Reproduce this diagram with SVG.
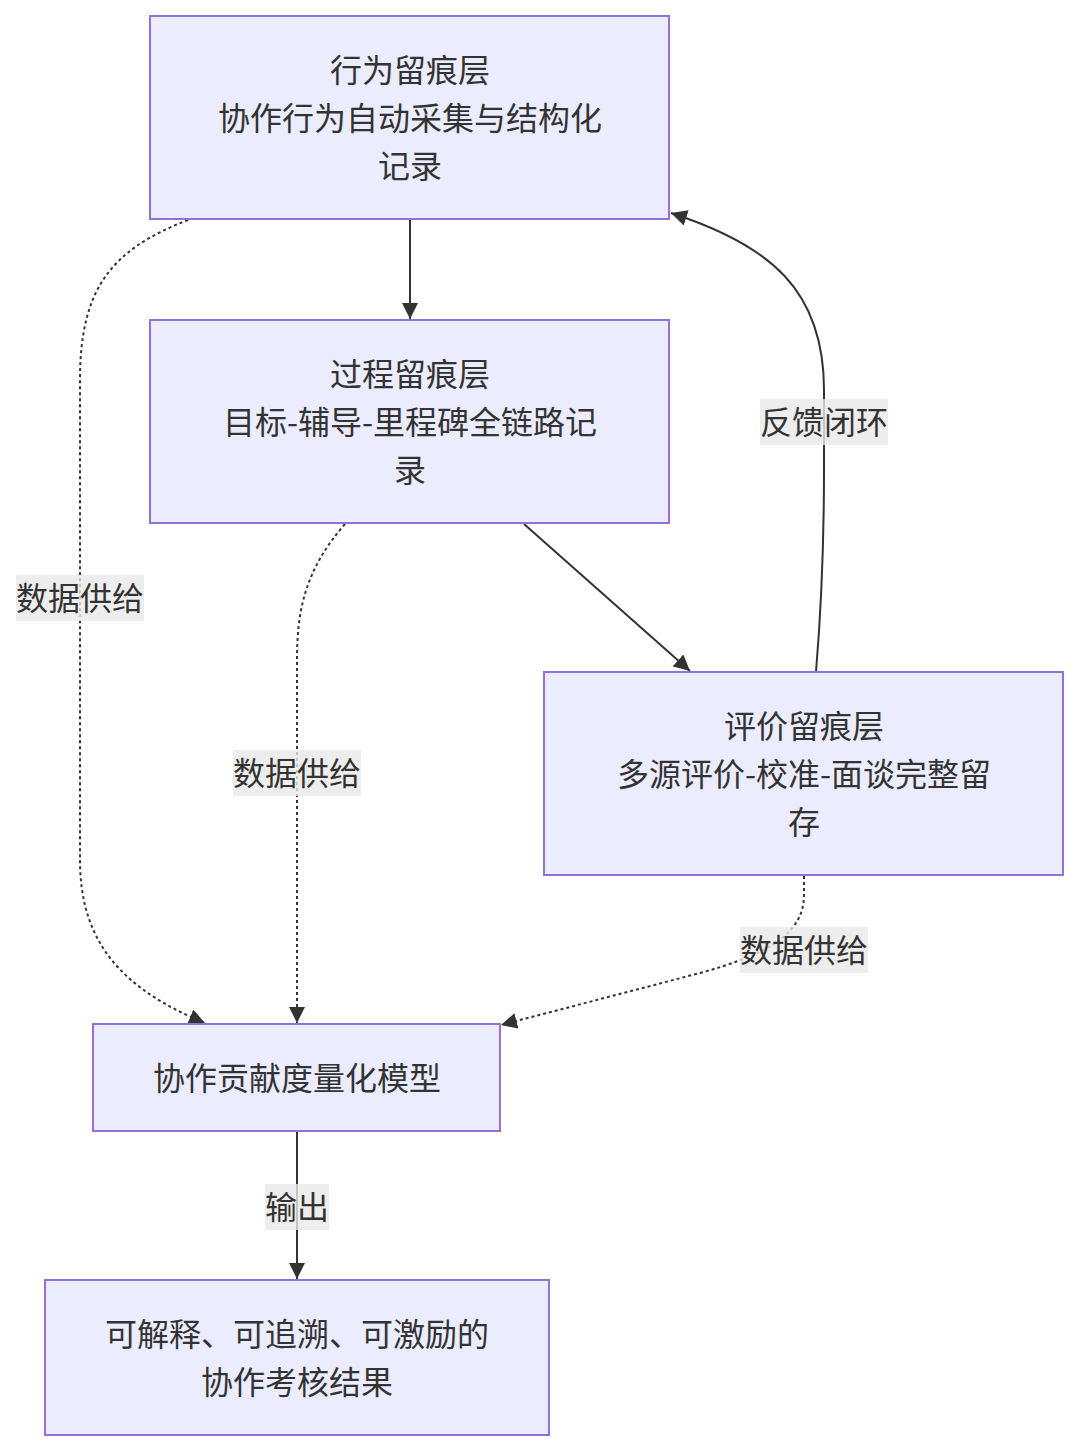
<svg xmlns="http://www.w3.org/2000/svg" width="1080" height="1452" viewBox="0 0 1080 1452">
<style>
.node rect{fill:#ECECFF;stroke:#9370DB;stroke-width:2}
text{font-family:"Noto Sans CJK SC","Noto Sans",sans-serif;font-size:32px;fill:#333;text-anchor:middle;dominant-baseline:central}
.edge{fill:none;stroke:#333;stroke-width:2}
.dash{stroke-dasharray:3 3}
.lbl rect{fill:rgba(232,232,232,0.8)}
</style>
<defs>
<marker id="arr" viewBox="0 0 10 10" refX="10" refY="5" markerUnits="userSpaceOnUse" markerWidth="16" markerHeight="16" orient="auto">
<path d="M0,0 L10,5 L0,10 z" fill="#333"/>
</marker>
</defs>
<rect width="1080" height="1452" fill="#fff"/>
<g id="connectors">
<path class="edge" d="M410,220 L410,319" marker-end="url(#arr)"/>
<path class="edge" d="M524,524 L690,671" marker-end="url(#arr)"/>
<path class="edge" d="M816,672 C822,600 824,540 824,470 L824,390 C824,290 770,245 671,213" marker-end="url(#arr)"/>
<path class="edge dash" d="M188,220 C110,250 80,290 80,380 L80,860 C80,945 125,990 205,1023" marker-end="url(#arr)"/>
<path class="edge dash" d="M345,524 C305,570 297,610 297,660 L297,1023" marker-end="url(#arr)"/>
<path class="edge dash" d="M804,876 L804,895 C804,935 765,955 700,973 L501,1025" marker-end="url(#arr)"/>
<path class="edge" d="M297,1132 L297,1279" marker-end="url(#arr)"/>
<g class="lbl"><rect x="760" y="399" width="128" height="46"/><text x="824" y="420">反馈闭环</text></g>
<g class="lbl"><rect x="16" y="575" width="128" height="46"/><text x="80" y="596">数据供给</text></g>
<g class="lbl"><rect x="233" y="750" width="128" height="46"/><text x="297" y="771">数据供给</text></g>
<g class="lbl"><rect x="740" y="927" width="128" height="46"/><text x="804" y="948">数据供给</text></g>
<g class="lbl"><rect x="265" y="1184" width="64" height="46"/><text x="297" y="1205">输出</text></g>
</g>
<g id="nodeA" class="node"><rect x="150" y="16" width="519" height="203"/><text x="410" y="68">行为留痕层</text><text x="410" y="116">协作行为自动采集与结构化</text><text x="410" y="164">记录</text></g>
<g id="nodeB" class="node"><rect x="150" y="320" width="519" height="203"/><text x="410" y="372">过程留痕层</text><text x="410" y="420">目标-辅导-里程碑全链路记</text><text x="410" y="468">录</text></g>
<g id="nodeC" class="node"><rect x="544" y="672" width="519" height="203"/><text x="804" y="724">评价留痕层</text><text x="804" y="772">多源评价-校准-面谈完整留</text><text x="804" y="820">存</text></g>
<g id="nodeD" class="node"><rect x="93" y="1024" width="407" height="107"/><text x="297" y="1076">协作贡献度量化模型</text></g>
<g id="nodeE" class="node"><rect x="45" y="1280" width="504" height="155"/><text x="297" y="1332">可解释、可追溯、可激励的</text><text x="297" y="1380">协作考核结果</text></g>
</svg>
